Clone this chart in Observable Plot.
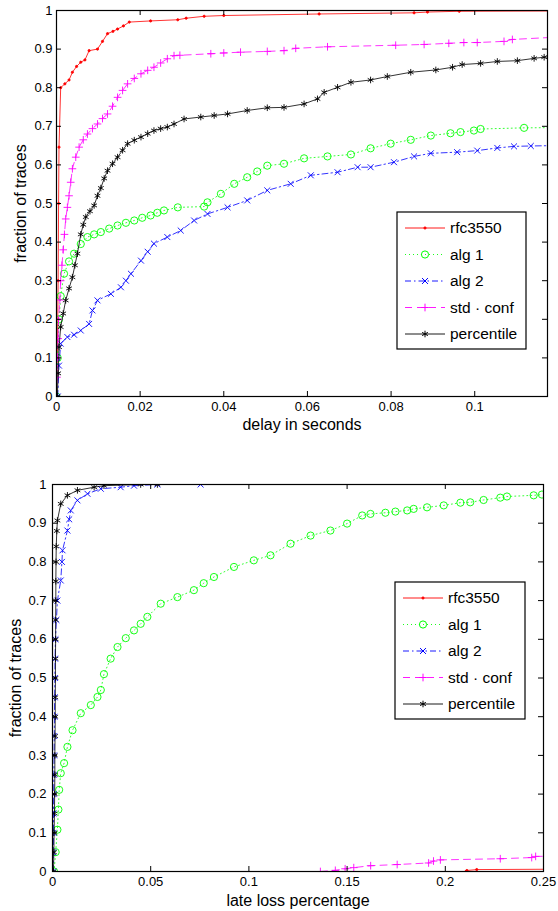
<!DOCTYPE html>
<html><head><meta charset="utf-8">
<script src="https://cdn.jsdelivr.net/npm/d3@7"></script>
<script src="https://cdn.jsdelivr.net/npm/@observablehq/plot@0.6"></script>
<style>
body{margin:0;background:#fff;}
#chart{width:558px;}
#chart svg{display:block;}
</style></head><body><div id="chart"></div>
<script>
// ---------- data ----------
const seriesNames = ["rfc3550", "alg 1", "alg 2", "std \u00b7 conf", "percentile"];
const yTicks = [0, 0.1, 0.2, 0.3, 0.4, 0.5, 0.6, 0.7, 0.8, 0.9, 1];
const delayTicks = [0, 0.02, 0.04, 0.06, 0.08, 0.1];
const lossTicks = [0, 0.05, 0.1, 0.15, 0.2, 0.25];

// Panel 1: delay in seconds (x, fraction of traces)
const delayRfc3550 = [[0,0],[0.0002,0.1],[0.0004,0.3],[0.0005,0.5],[0.0006,0.646],[0.001,0.80],[0.002,0.81],[0.003,0.82],[0.0038,0.84],[0.0048,0.855],[0.0058,0.866],[0.0068,0.872],[0.0078,0.896],[0.0098,0.9],[0.011,0.92],[0.0122,0.94],[0.0135,0.946],[0.0146,0.952],[0.016,0.96],[0.0174,0.97],[0.0225,0.973],[0.029,0.976],[0.031,0.98],[0.0353,0.985],[0.04,0.987],[0.0628,0.991],[0.0855,0.994],[0.0887,0.996],[0.0963,0.998],[0.125,0.999]];
const delayAlg1 = [[0,0],[0.0003,0.1],[0.0006,0.2],[0.001,0.26],[0.0018,0.318],[0.003,0.35],[0.0042,0.37],[0.0058,0.395],[0.0074,0.413],[0.009,0.42],[0.0106,0.426],[0.0126,0.435],[0.0146,0.443],[0.0166,0.45],[0.0186,0.456],[0.0205,0.463],[0.0225,0.469],[0.0241,0.476],[0.0257,0.482],[0.029,0.49],[0.0353,0.492],[0.0361,0.503],[0.0393,0.525],[0.0425,0.551],[0.0456,0.568],[0.048,0.583],[0.0504,0.598],[0.0544,0.603],[0.0592,0.617],[0.0648,0.622],[0.0704,0.627],[0.0751,0.643],[0.0799,0.655],[0.0847,0.665],[0.0895,0.676],[0.0942,0.682],[0.0966,0.685],[0.0998,0.689],[0.1014,0.693],[0.1118,0.696],[0.125,0.697]];
const delayAlg2 = [[0.0003,0],[0.0006,0.08],[0.001,0.137],[0.0026,0.154],[0.0042,0.16],[0.0058,0.171],[0.0078,0.188],[0.0086,0.223],[0.0098,0.249],[0.013,0.266],[0.0154,0.283],[0.0166,0.3],[0.0178,0.318],[0.0202,0.352],[0.0218,0.375],[0.0233,0.396],[0.0265,0.413],[0.0297,0.43],[0.0329,0.456],[0.0361,0.473],[0.0409,0.49],[0.0456,0.508],[0.0504,0.534],[0.056,0.551],[0.0608,0.573],[0.0672,0.581],[0.072,0.594],[0.0751,0.594],[0.0807,0.607],[0.0855,0.622],[0.0895,0.63],[0.0958,0.633],[0.1006,0.637],[0.1054,0.644],[0.1094,0.648],[0.1134,0.649],[0.125,0.651]];
const delayStdConf = [[0,0],[0.0001,0.05],[0.0002,0.1],[0.0004,0.15],[0.0005,0.2],[0.0008,0.25],[0.001,0.3],[0.0013,0.34],[0.0016,0.38],[0.0019,0.42],[0.0022,0.46],[0.0026,0.49],[0.003,0.52],[0.0034,0.555],[0.0038,0.59],[0.0046,0.62],[0.0054,0.646],[0.0064,0.665],[0.0074,0.68],[0.0086,0.694],[0.0098,0.706],[0.011,0.72],[0.0122,0.732],[0.0134,0.752],[0.0146,0.775],[0.0158,0.793],[0.017,0.81],[0.0186,0.824],[0.0202,0.836],[0.0218,0.845],[0.0233,0.853],[0.0249,0.864],[0.0265,0.875],[0.0281,0.883],[0.0295,0.884],[0.0369,0.888],[0.04,0.89],[0.044,0.892],[0.0504,0.894],[0.0544,0.896],[0.0572,0.902],[0.0648,0.906],[0.0811,0.91],[0.0879,0.912],[0.0938,0.915],[0.0974,0.917],[0.1006,0.917],[0.107,0.92],[0.109,0.925],[0.125,0.934]];
const delayPercentile = [[0.0002,0],[0.0004,0.06],[0.0006,0.128],[0.001,0.18],[0.0016,0.215],[0.0022,0.249],[0.003,0.28],[0.0038,0.309],[0.0044,0.34],[0.005,0.37],[0.0058,0.42],[0.0064,0.445],[0.007,0.465],[0.008,0.48],[0.009,0.495],[0.0098,0.52],[0.0106,0.54],[0.0114,0.565],[0.0122,0.585],[0.0134,0.603],[0.0146,0.62],[0.0158,0.638],[0.017,0.655],[0.0186,0.664],[0.0202,0.672],[0.0218,0.681],[0.0233,0.689],[0.0249,0.694],[0.0265,0.698],[0.0281,0.706],[0.0305,0.719],[0.0345,0.724],[0.0377,0.728],[0.0409,0.732],[0.0456,0.741],[0.0504,0.748],[0.0544,0.749],[0.0592,0.758],[0.0624,0.771],[0.064,0.788],[0.0672,0.801],[0.0704,0.814],[0.0751,0.82],[0.0791,0.829],[0.0847,0.84],[0.0907,0.846],[0.0947,0.853],[0.097,0.86],[0.1014,0.863],[0.1054,0.868],[0.1102,0.87],[0.1142,0.876],[0.1166,0.879],[0.125,0.884]];

// Panel 2: late loss percentage (x, fraction of traces)
const lossRfc3550 = [[0.2105,0],[0.211,0.0026],[0.216,0.005],[0.26,0.006]];
const lossAlg1 = [[0.0008,0],[0.0016,0.05],[0.0025,0.108],[0.003,0.16],[0.0034,0.211],[0.0042,0.254],[0.0059,0.28],[0.0076,0.322],[0.0102,0.365],[0.0144,0.409],[0.0195,0.43],[0.0229,0.451],[0.0246,0.469],[0.0262,0.51],[0.0296,0.55],[0.0331,0.58],[0.0373,0.603],[0.0415,0.623],[0.0449,0.64],[0.0483,0.658],[0.0551,0.692],[0.0636,0.709],[0.072,0.727],[0.077,0.745],[0.0822,0.761],[0.0924,0.787],[0.1025,0.804],[0.111,0.817],[0.1212,0.847],[0.1314,0.868],[0.1415,0.881],[0.15,0.899],[0.1577,0.92],[0.1619,0.924],[0.1695,0.927],[0.1746,0.93],[0.1806,0.933],[0.1839,0.937],[0.1907,0.941],[0.1992,0.946],[0.2077,0.953],[0.2127,0.954],[0.2195,0.96],[0.228,0.966],[0.2314,0.969],[0.245,0.972],[0.2492,0.974]];
const lossAlg2 = [[0.0003,0],[0.0004,0.05],[0.0005,0.1],[0.0005,0.15],[0.0006,0.2],[0.0007,0.25],[0.0008,0.3],[0.0009,0.35],[0.001,0.4],[0.0011,0.45],[0.0012,0.5],[0.0013,0.55],[0.0015,0.6],[0.002,0.65],[0.0025,0.7],[0.0042,0.752],[0.0048,0.8],[0.0051,0.83],[0.0076,0.881],[0.0085,0.91],[0.0093,0.933],[0.0127,0.959],[0.0178,0.976],[0.0246,0.989],[0.0347,0.993],[0.0415,0.997],[0.0534,1],[0.0754,1]];
const lossStdConf = [[0.1364,0],[0.144,0.003],[0.149,0.007],[0.1534,0.01],[0.162,0.015],[0.1755,0.018],[0.1915,0.022],[0.194,0.027],[0.1975,0.03],[0.228,0.033],[0.244,0.036],[0.246,0.039],[0.26,0.04]];
const lossPercentile = [[0.0005,0],[0.0007,0.05],[0.0008,0.1],[0.001,0.15],[0.0011,0.2],[0.0012,0.25],[0.0012,0.3],[0.0013,0.35],[0.0014,0.4],[0.0014,0.45],[0.0015,0.5],[0.0015,0.55],[0.0016,0.6],[0.0016,0.65],[0.0017,0.7],[0.0017,0.75],[0.0018,0.8],[0.0019,0.84],[0.0022,0.88],[0.0025,0.907],[0.0042,0.95],[0.0076,0.972],[0.0127,0.985],[0.0212,0.993],[0.0262,0.997],[0.0449,1],[0.0534,1]];

// ---------- styles ----------
const styles = [
  {color: "#ff0000", symbol: "circle", dash: null, r: 1.1, fill: true},
  {color: "#00ff00", symbol: "circle", dash: "1,3", r: 3.6, fill: false},
  {color: "#0000ff", symbol: "times", dash: "6,3,1.5,3", r: 2.8, fill: false},
  {color: "#ff00ff", symbol: "plus", dash: "7,5", r: 2.6, fill: false},
  {color: "#000000", symbol: "asterisk", dash: null, r: 3.1, fill: false}
];
const d3Sym = {circle: d3.symbolCircle, times: d3.symbolTimes || d3.symbolX, plus: d3.symbolPlus, asterisk: d3.symbolAsterisk};
const FONT = "'Liberation Sans', Arial, Helvetica, sans-serif";

function panel({series, xDomain, xTicks, xLabel, height, margin, legend}) {
  const W = 558;
  const iw = W - margin.left - margin.right;
  const ih = height - margin.top - margin.bottom;
  const marks = [];
  series.forEach((data, i) => {
    const s = styles[i];
    marks.push(Plot.line(data, {x: d => d[0], y: d => d[1], stroke: s.color, strokeWidth: 0.8, strokeDasharray: s.dash, clip: true}));
    marks.push(Plot.dot(data, {x: d => d[0], y: d => d[1], symbol: s.symbol, r: s.r, stroke: s.color, fill: s.fill ? s.color : "none", strokeWidth: 0.9, clip: true}));
  });
  marks.push(
    Plot.tickX(xTicks, {x: d => d, insetTop: ih - 5, stroke: "black", strokeWidth: 1}),
    Plot.tickX(xTicks, {x: d => d, insetBottom: ih - 5, stroke: "black", strokeWidth: 1}),
    Plot.tickY(yTicks, {y: d => d, insetRight: iw - 5, stroke: "black", strokeWidth: 1}),
    Plot.tickY(yTicks, {y: d => d, insetLeft: iw - 5, stroke: "black", strokeWidth: 1}),
    Plot.frame({stroke: "black", strokeWidth: 1.2}),
    Plot.axisX({ticks: xTicks, tickSize: 0, tickPadding: 5, tickFormat: d => String(d), fontSize: 13, label: null}),
    Plot.axisY({ticks: yTicks, tickSize: 0, tickPadding: margin.yPad, tickFormat: d => String(d), fontSize: 13, label: null}),
    Plot.text([xLabel], {frameAnchor: "bottom", dy: margin.xLabelDy, text: d => d, fontSize: 16, lineAnchor: "middle", fill: "black"}),
    Plot.text(["fraction of traces"], {frameAnchor: "left", dx: margin.yLabelDx, text: d => d, fontSize: 16, rotate: -90, textAnchor: "middle", lineAnchor: "middle", fill: "black"})
  );
  const svg = Plot.plot({
    width: W, height,
    marginTop: margin.top, marginBottom: margin.bottom, marginLeft: margin.left, marginRight: margin.right,
    style: {fontFamily: FONT, fontSize: "13px", background: "white", color: "black"},
    x: {domain: xDomain, label: null},
    y: {domain: [0, 1], label: null},
    marks
  });
  // legend box (MATLAB style)
  const g = d3.select(svg).append("g").attr("transform", `translate(${legend.x},${legend.y})`);
  g.append("rect").attr("width", legend.w).attr("height", legend.h).attr("fill", "white").attr("stroke", "black").attr("stroke-width", 1.2);
  seriesNames.forEach((name, i) => {
    const s = styles[i];
    const cy = 16 + i * 26.5;
    g.append("line").attr("x1", 8).attr("x2", 48).attr("y1", cy).attr("y2", cy)
      .attr("stroke", s.color).attr("stroke-width", 0.9).attr("stroke-dasharray", s.dash);
    g.append("path").attr("transform", `translate(28,${cy})`)
      .attr("d", d3.symbol().type(d3Sym[s.symbol]).size(s.r * s.r * Math.PI)())
      .attr("stroke", s.color).attr("stroke-width", 1).attr("fill", s.fill ? s.color : "none");
    g.append("text").attr("x", 53).attr("y", cy).attr("dy", "0.35em")
      .attr("text-anchor", "start")
      .attr("font-family", FONT).attr("font-size", 15.5).attr("fill", "black").text(name);
  });
  return svg;
}

const root = document.getElementById("chart");
root.appendChild(panel({
  series: [delayRfc3550, delayAlg1, delayAlg2, delayStdConf, delayPercentile],
  xDomain: [0, 0.1174], xTicks: delayTicks, xLabel: "delay in seconds",
  height: 455,
  margin: {top: 10, bottom: 59, left: 56, right: 11, xLabelDy: 28, yLabelDx: -36, yPad: 4},
  legend: {x: 397, y: 212, w: 129, h: 137}
}));
root.appendChild(panel({
  series: [lossRfc3550, lossAlg1, lossAlg2, lossStdConf, lossPercentile],
  xDomain: [0, 0.25], xTicks: lossTicks, xLabel: "late loss percentage",
  height: 456,
  margin: {top: 29, bottom: 40, left: 52, right: 15, xLabelDy: 29, yLabelDx: -37, yPad: 6},
  legend: {x: 395, y: 127, w: 130, h: 137}
}));
</script>
</body></html>
